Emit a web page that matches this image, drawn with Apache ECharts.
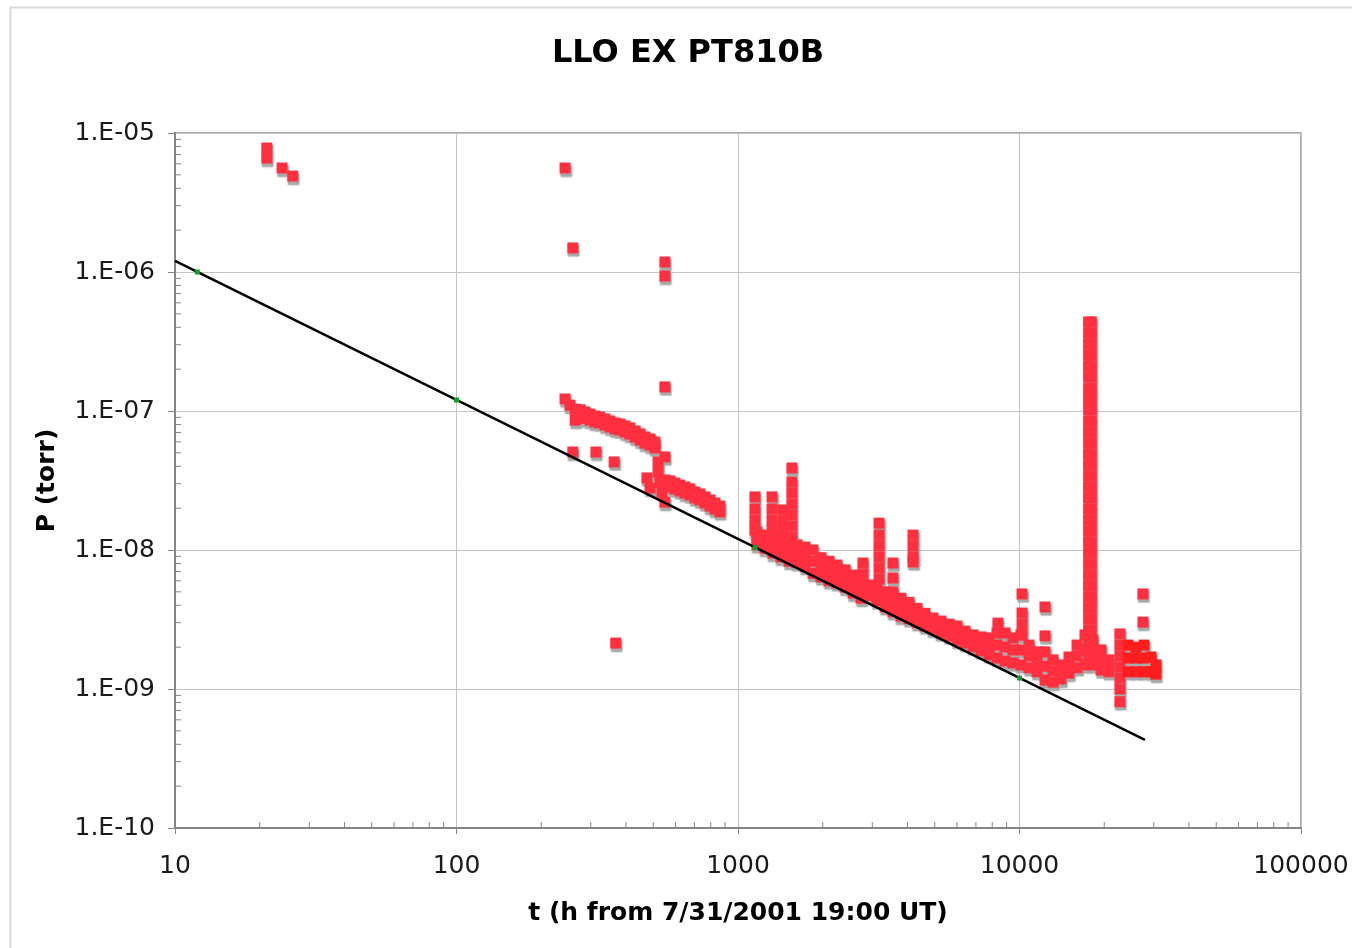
<!DOCTYPE html>
<html>
<head>
<meta charset="utf-8">
<title>LLO EX PT810B</title>
<script src="https://cdn.jsdelivr.net/npm/echarts@6/dist/echarts.min.js"></script>
<style>
  html, body { margin: 0; padding: 0; background: #ffffff; }
  #chart { width: 1352px; height: 948px; }
</style>
</head>
<body>
<div id="chart"></div>
<script>
// Pressure gauge PT810B, LLO X-end station: P (torr) vs hours since 7/31/2001 19:00 UT.

// Early readings
const earlyT = [21.2, 21.2, 24.0, 26.2];
const earlyP = [7.8e-6, 6.6e-6, 5.6e-6, 4.9e-6];

// Isolated readings
const strayT = [243, 259, 550, 550, 550, 550, 368, 259, 313, 363];
const strayP = [5.6e-6, 1.49e-6, 1.18e-6, 9.35e-7, 1.49e-7, 4.67e-8, 2.14e-9, 5.07e-8, 5.07e-8, 4.30e-8];

// First pump-down trace (240-510 h)
const upperT = [243, 253, 264, 264, 275, 275, 286, 286, 298, 298, 310, 310, 323, 323, 337, 337,
  351, 351, 366, 366, 381, 381, 397, 397, 413, 413, 431, 431, 449, 449, 467, 467, 487, 487, 507, 507];
const upperP = [1.22e-7, 1.10e-7, 1.03e-7, 8.6e-8, 1.02e-7, 8.9e-8, 9.84e-8, 8.9e-8, 9.5e-8, 8.6e-8,
  9.2e-8, 8.33e-8, 9.05e-8, 8.2e-8, 8.76e-8, 7.93e-8, 8.47e-8, 7.67e-8, 8.2e-8, 7.42e-8, 8.06e-8, 7.30e-8,
  7.8e-8, 7.06e-8, 7.55e-8, 6.83e-8, 7.18e-8, 6.5e-8, 6.83e-8, 6.18e-8, 6.5e-8, 5.88e-8, 6.29e-8, 5.69e-8,
  5.98e-8, 5.42e-8];

// Step down near 500 h
const dropT = [475, 487, 520, 520, 528, 537, 550];
const dropP = [3.30e-8, 2.79e-8, 4.30e-8, 3.64e-8, 3.08e-8, 2.61e-8, 2.21e-8];

// Second trace (550-870 h)
const lowerT = [550, 550, 573, 573, 597, 597, 622, 622, 648, 648, 675, 675, 703, 703, 732, 732,
  763, 763, 795, 795, 828, 828, 862, 862];
const lowerP = [3.19e-8, 2.89e-8, 3.14e-8, 2.84e-8, 3.03e-8, 2.75e-8, 2.93e-8, 2.66e-8, 2.84e-8, 2.57e-8,
  2.75e-8, 2.49e-8, 2.61e-8, 2.37e-8, 2.53e-8, 2.29e-8, 2.41e-8, 2.18e-8, 2.29e-8, 2.07e-8, 2.18e-8, 1.97e-8,
  2.07e-8, 1.88e-8];

// Long-term trace (1150-21000 h): upper, middle and lower edge of the readings at each time
const bandT = [1168, 1247, 1331, 1421, 1518, 1620, 1730, 1847, 1972, 2105, 2247, 2400, 2562, 2735, 2920,
  3118, 3329, 3553, 3793, 4051, 4324, 4616, 4928, 5261, 5618, 5998, 6403, 6836, 7298, 7793, 8320, 8882,
  9482, 10120, 10810, 11540, 12320, 13150, 14040, 14990, 16010, 17090, 18240, 19480, 20790];
const bandHi = [1.35e-8, 1.28e-8, 1.24e-8, 1.18e-8, 1.14e-8, 1.09e-8, 1.05e-8, 1.00e-8, 8.8e-9, 8.3e-9,
  7.8e-9, 7.2e-9, 6.6e-9, 6.2e-9, 5.6e-9, 5.2e-9, 5.0e-9, 4.75e-9, 4.5e-9, 4.2e-9, 3.8e-9, 3.5e-9, 3.24e-9,
  3.08e-9, 2.93e-9, 2.84e-9, 2.61e-9, 2.45e-9, 2.37e-9, 2.33e-9, 2.53e-9, 2.53e-9, 2.33e-9, 2.45e-9, 2.07e-9,
  1.85e-9, 1.85e-9, 1.62e-9, 1.49e-9, 1.70e-9, 2.07e-9, 2.45e-9, 2.25e-9, 1.91e-9, 1.62e-9];
const bandMid = [1.22e-8, 1.16e-8, 1.09e-8, 1.03e-8, 9.8e-9, 9.4e-9, 8.9e-9, 8.3e-9, 7.6e-9, 7.1e-9,
  6.7e-9, 6.3e-9, 5.7e-9, 5.3e-9, 5.2e-9, 4.75e-9, 4.4e-9, 4.2e-9, 3.9e-9, 3.7e-9, 3.4e-9, 3.2e-9, 2.98e-9,
  2.79e-9, 2.66e-9, 2.53e-9, 2.37e-9, 2.21e-9, 2.11e-9, 2.04e-9, 2.07e-9, 2.01e-9, 1.91e-9, 1.91e-9, 1.73e-9,
  1.56e-9, 1.46e-9, 1.35e-9, 1.33e-9, 1.49e-9, 1.73e-9, 1.91e-9, 1.85e-9, 1.62e-9, 1.46e-9];
const bandLo = [1.09e-8, 1.03e-8, 9.5e-9, 8.9e-9, 8.3e-9, 8.1e-9, 7.6e-9, 6.8e-9, 6.4e-9, 6.0e-9,
  5.8e-9, 5.4e-9, 4.9e-9, 4.5e-9, 4.7e-9, 4.3e-9, 3.9e-9, 3.6e-9, 3.35e-9, 3.2e-9, 3.0e-9, 2.84e-9, 2.7e-9,
  2.53e-9, 2.41e-9, 2.25e-9, 2.14e-9, 2.01e-9, 1.88e-9, 1.76e-9, 1.67e-9, 1.59e-9, 1.54e-9, 1.49e-9, 1.42e-9,
  1.33e-9, 1.16e-9, 1.12e-9, 1.18e-9, 1.30e-9, 1.42e-9, 1.49e-9, 1.49e-9, 1.37e-9, 1.33e-9];

// Short bursts above (or below) the trace: one time, several readings
const burstT = [1149, 1321, 1445, 1555, 2780, 3170, 3553, 4185, 8386, 10210, 12320, 22750, 27460];
const burstP = [
  [2.41e-8, 1.97e-8, 1.64e-8, 1.39e-8],
  [2.41e-8, 1.97e-8, 1.64e-8, 1.39e-8],
  [1.94e-8, 1.62e-8, 1.39e-8],
  [3.89e-8, 3.08e-8, 2.57e-8, 2.14e-8, 1.79e-8, 1.49e-8, 1.24e-8],
  [8.06e-9, 6.72e-9, 5.6e-9],
  [1.56e-8, 1.28e-8, 1.07e-8, 8.91e-9, 7.42e-9, 6.18e-9],
  [8.06e-9, 6.29e-9, 4.99e-9],
  [1.28e-8, 1.07e-8, 8.91e-9, 8.2e-9],
  [2.98e-9],
  [4.83e-9, 3.52e-9, 2.93e-9, 2.45e-9],
  [3.89e-9, 2.41e-9],
  [2.49e-9, 2.07e-9, 1.73e-9, 1.44e-9, 1.20e-9, 1.0e-9, 8.1e-10],
  [4.83e-9, 3.03e-9]
];

// Pressure excursion near 17800 h
const spikeT = [17600, 18000];
const spikeP = [4.37e-7, 3.64e-7, 3.03e-7, 2.53e-7, 2.11e-7, 1.76e-7, 1.46e-7, 1.22e-7, 1.02e-7, 8.47e-8,
  7.06e-8, 5.88e-8, 4.90e-8, 4.09e-8, 3.41e-8, 2.84e-8, 2.37e-8, 1.97e-8, 1.64e-8, 1.37e-8, 1.14e-8,
  9.52e-9, 7.93e-9, 6.61e-9, 5.51e-9, 4.59e-9, 3.83e-9, 3.19e-9, 2.66e-9, 2.21e-9, 1.85e-9, 1.54e-9];

// Latest readings (second data set)
const lateT = [24300, 24300, 24300, 25940, 25940, 25940, 27690, 27690, 27690, 29330, 29330, 30530, 30530];
const lateP = [2.07e-9, 1.67e-9, 1.33e-9, 2.0e-9, 1.67e-9, 1.33e-9, 2.07e-9, 1.67e-9, 1.33e-9,
  1.70e-9, 1.33e-9, 1.49e-9, 1.28e-9];

// 1/t reference line and its marked points
const trendT = [10, 27900];
const trendP = [1.2e-6, 4.3e-10];
const refT = [12, 100, 1150, 10000];
const refP = [1.0e-6, 1.2e-7, 1.04e-8, 1.2e-9];

// Axis tick labels, one per decade
const xTicks = ['10', '100', '1000', '10000', '100000'];
const yTicks = ['1.E-10', '1.E-09', '1.E-08', '1.E-07', '1.E-06', '1.E-05'];

const FONT = '"DejaVu Sans", Verdana, sans-serif';
const RED = '#ff2f3f';
const DARK_RED = '#ff1d1d';
const SHADOW = '#a9a9a9';
const AXIS_GREY = '#858585';

function zip(ts, ps) { return ts.map((t, i) => [t, ps[i]]); }

const readings = [];
readings.push(...zip(earlyT, earlyP));
readings.push(...zip(strayT, strayP));
readings.push(...zip(upperT, upperP));
readings.push(...zip(dropT, dropP));
readings.push(...zip(lowerT, lowerP));
bandT.forEach((t, i) => {
  readings.push([t, bandLo[i]], [t, bandMid[i]], [t, bandHi[i]]);
});
burstT.forEach((t, i) => { burstP[i].forEach(p => readings.push([t, p])); });
spikeT.forEach(t => { spikeP.forEach(p => readings.push([t, p])); });
const lateReadings = zip(lateT, lateP);

// minor tick positions (2..9 within each decade)
const xMinor = [];
for (let e = 1; e <= 4; e++) for (let k = 2; k <= 9; k++) xMinor.push([k * Math.pow(10, e), 1e-10]);
const yMinor = [];
for (let e = -10; e <= -6; e++) for (let k = 2; k <= 9; k++) yMinor.push([10, k * Math.pow(10, e)]);

function decadeIndex(v, lo) { return Math.round(Math.log10(v) - lo); }

// square markers with a soft grey drop shadow drawn as a layer underneath
function markerSeries(name, data, color) {
  return [
    {
      name: name + ' shadow', type: 'scatter', silent: true, z: 2,
      symbol: 'rect', symbolSize: 11, symbolOffset: [1, 3],
      data: data,
      itemStyle: { color: SHADOW, opacity: 1, shadowColor: SHADOW, shadowBlur: 2 }
    },
    {
      name: name, type: 'scatter', silent: true, z: 3,
      symbol: 'rect', symbolSize: 11,
      data: data,
      itemStyle: { color: color, opacity: 1 }
    }
  ];
}

const chart = echarts.init(document.getElementById('chart'), null, { renderer: 'canvas' });
chart.setOption({
  animation: false,
  backgroundColor: '#ffffff',
  title: {
    text: 'LLO EX PT810B',
    left: 683,
    top: 33,
    textAlign: 'center',
    textStyle: { fontFamily: FONT, fontSize: 32, fontWeight: 'bold', color: '#000' }
  },
  graphic: [{
    type: 'rect',
    left: 8, top: 5,
    shape: { width: 1400, height: 1000 },
    style: { fill: null, stroke: '#d9d9d9', lineWidth: 2 },
    silent: true,
    z: -10
  }],
  grid: {
    left: 175, right: 51, top: 133, bottom: 120,
    show: true, borderColor: '#8f8f8f', borderWidth: 1.5, backgroundColor: '#fff'
  },
  xAxis: {
    type: 'log', logBase: 10, min: 10, max: 100000,
    name: 't (h from 7/31/2001 19:00 UT)',
    nameLocation: 'middle', nameGap: 73,
    nameTextStyle: { fontFamily: FONT, fontSize: 25, fontWeight: 'bold', color: '#000' },
    axisLine: { show: true, lineStyle: { color: AXIS_GREY, width: 2 } },
    axisTick: { show: true, inside: false, length: 6, lineStyle: { color: AXIS_GREY } },
    axisLabel: {
      margin: 26, fontFamily: FONT, fontSize: 25, color: '#1a1a1a',
      formatter: v => xTicks[decadeIndex(v, 1)]
    },
    splitLine: { show: true, lineStyle: { color: '#c4c4c4', width: 1 } }
  },
  yAxis: {
    type: 'log', logBase: 10, min: 1e-10, max: 1e-5,
    name: 'P (torr)',
    nameLocation: 'middle', nameGap: 115,
    nameTextStyle: { fontFamily: FONT, fontSize: 25, fontWeight: 'bold', color: '#000' },
    axisLine: { show: true, lineStyle: { color: AXIS_GREY, width: 2 } },
    axisTick: { show: true, inside: false, length: 7, lineStyle: { color: AXIS_GREY } },
    axisLabel: {
      margin: 20, fontFamily: FONT, fontSize: 25, color: '#1a1a1a',
      formatter: v => yTicks[decadeIndex(v, -10)]
    },
    splitLine: { show: true, lineStyle: { color: '#c4c4c4', width: 1 } }
  },
  series: [
    {
      name: 'minor-x', type: 'custom', silent: true, z: 1,
      data: xMinor,
      renderItem: (params, api) => {
        const p = api.coord([api.value(0), api.value(1)]);
        return { type: 'line', shape: { x1: p[0], y1: p[1], x2: p[0], y2: p[1] - 6 },
          style: { stroke: AXIS_GREY, lineWidth: 1 } };
      }
    },
    {
      name: 'minor-y', type: 'custom', silent: true, z: 1,
      data: yMinor,
      renderItem: (params, api) => {
        const p = api.coord([api.value(0), api.value(1)]);
        return { type: 'line', shape: { x1: p[0], y1: p[1], x2: p[0] + 6, y2: p[1] },
          style: { stroke: AXIS_GREY, lineWidth: 1 } };
      }
    },
    ...markerSeries('PT810B', readings, RED),
    ...markerSeries('PT810B (late)', lateReadings, DARK_RED),
    {
      name: 'fit', type: 'line', silent: true, z: 5,
      data: zip(trendT, trendP),
      symbol: 'none',
      lineStyle: { color: '#000', width: 2.5 }
    },
    {
      name: 'fit points', type: 'scatter', silent: true, z: 6,
      symbol: 'rect', symbolSize: 5,
      data: zip(refT, refP),
      itemStyle: { color: '#169b2c', opacity: 1 }
    }
  ]
});
</script>
</body>
</html>
